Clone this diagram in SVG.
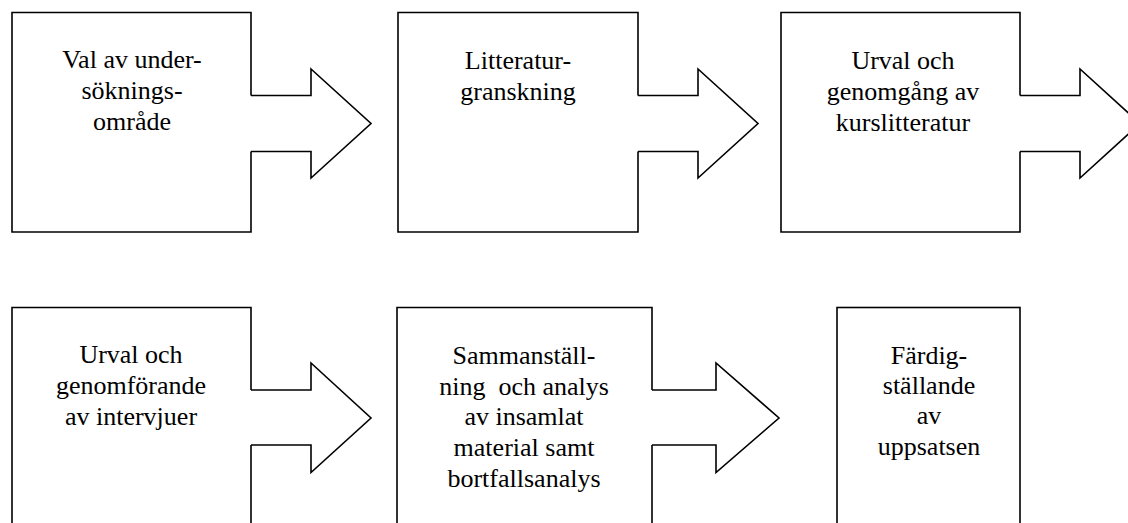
<svg xmlns="http://www.w3.org/2000/svg" width="1128" height="523" viewBox="0 0 1128 523">
<style>
.b{fill:#fff;stroke:#000;stroke-width:1.6;stroke-linejoin:miter}
.a{fill:#fff;stroke:#000;stroke-width:1.6;stroke-linejoin:miter}
text{font-family:'Liberation Serif','Times New Roman',Times,serif;font-size:26px;fill:#000;text-anchor:middle;white-space:pre}
</style>
<rect width="1128" height="523" fill="#fff"/>
<g id="n1">
<path class="b" d="M251,95.5 V12.5 H12 V232 H251 V151.5"/>
<text x="132" y="68">Val av under-</text>
<text x="132" y="99">söknings-</text>
<text x="132" y="129.5">område</text>
</g>
<g id="n2">
<path class="b" d="M638,95.5 V12.5 H398 V232 H638 V151.5"/>
<text x="518" y="69">Litteratur-</text>
<text x="518" y="100">granskning</text>
</g>
<g id="n3">
<path class="b" d="M1020,95.5 V12.5 H781 V232 H1020 V151.5"/>
<text x="903" y="69">Urval och</text>
<text x="903" y="100">genomgång av</text>
<text x="903" y="130.5">kurslitteratur</text>
</g>
<g id="n4">
<path class="b" d="M251,390 V307.5 H12 V540 H251 V445"/>
<text x="131" y="363">Urval och</text>
<text x="131" y="394">genomförande</text>
<text x="131" y="425">av intervjuer</text>
</g>
<g id="n5">
<path class="b" d="M652,390 V307.5 H397 V540 H652 V445"/>
<text x="524" y="364">Sammanställ-</text>
<text x="524" y="394.5">ning  och analys</text>
<text x="524" y="425">av insamlat</text>
<text x="524" y="456">material samt</text>
<text x="524" y="487">bortfallsanalys</text>
</g>
<g id="n6">
<rect class="b" x="837" y="307.5" width="183" height="240"/>
<text x="929" y="364">Färdig-</text>
<text x="929" y="394">ställande</text>
<text x="929" y="424">av</text>
<text x="929" y="455">uppsatsen</text>
</g>
<g id="connectors">
<polyline class="a" points="251,95.5 311,95.5 311,69 371,123.5 311,178 311,151.5 251,151.5"/>
<polyline class="a" points="638,95.5 698,95.5 698,69 758,123.5 698,178 698,151.5 638,151.5"/>
<polyline class="a" points="1020,95.5 1080,95.5 1080,69 1140,123.5 1080,178 1080,151.5 1020,151.5"/>
<polyline class="a" points="251,390 311,390 311,363 371,418 311,472.5 311,445 251,445"/>
<polyline class="a" points="652,390 716,390 716,363 779,418 716,472.5 716,445 652,445"/>
</g>
</svg>
